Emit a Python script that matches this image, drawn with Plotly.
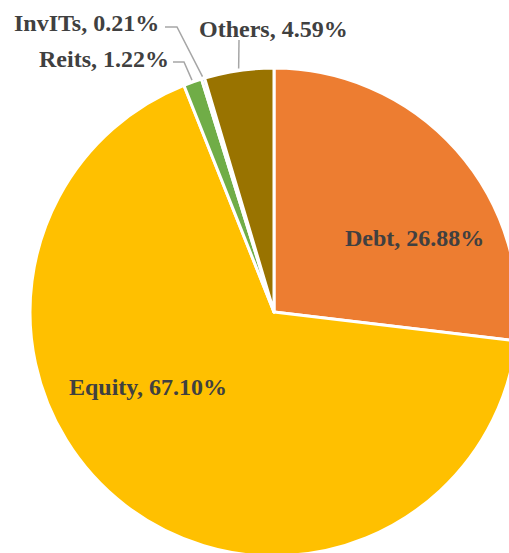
import math
import plotly.graph_objects as go

# ---- data ----
categories = ["Debt", "Equity", "Reits", "InvITs", "Others"]
values = [26.88, 67.10, 1.22, 0.21, 4.59]
colors = ["#ED7D31", "#FFC000", "#70AD47", "#4472C4", "#997300"]
label_text = ["Debt, 26.88%", "Equity, 67.10%", "Reits, 1.22%", "InvITs, 0.21%", "Others, 4.59%"]

# ---- layout geometry (pixels) ----
W, H = 518, 556
ML, MT = 30, 68
PW, PH = W - ML, H - MT
R = PW / 2.0
CX, CY = ML + R, MT + R

def paper(px, py):
    return (px - ML) / PW, 1 - (py - MT) / PH

fig = go.Figure(go.Pie(
    labels=categories,
    values=values,
    sort=False,
    direction="clockwise",
    rotation=0,
    marker=dict(colors=colors, line=dict(color="white", width=3)),
    textinfo="none",
    hoverinfo="label+percent",
    showlegend=False,
))

# label positions (pixel centers) and leader-line elbows
label_pos = {
    "Debt": (414, 238),
    "Equity": (148, 387),
    "Reits": (104, 59),
    "InvITs": (86, 23),
    "Others": (273, 29),
}
elbows = {
    "Reits": [(173, 62), (184, 62)],
    "InvITs": [(165, 27), (177, 27)],
    "Others": [(239, 40)],
}

annotations = []
for cat, txt in zip(categories, label_text):
    px, py = label_pos[cat]
    x, y = paper(px, py)
    annotations.append(dict(
        x=x, y=y, xref="paper", yref="paper", text="<b>" + txt + "</b>",
        showarrow=False, xanchor="center", yanchor="middle",
        font=dict(family="Liberation Serif", size=24, color="#404040"),
    ))

# leader lines: end on the slice's mid angle
total = sum(values)
cum = 0.0
shapes = []
for cat, v in zip(categories, values):
    mid = (cum + v / 2) / total * 2 * math.pi
    cum += v
    if cat not in elbows:
        continue
    ex = CX + (R + 2) * math.sin(mid)
    ey = CY - (R + 2) * math.cos(mid)
    pts = elbows[cat] + [(ex, ey)]
    path = ""
    for i, (px, py) in enumerate(pts):
        x, y = paper(px, py)
        path += ("M" if i == 0 else " L") + f"{x:.5f},{y:.5f}"
    shapes.append(dict(type="path", path=path, xref="paper", yref="paper",
                       line=dict(color="#A6A6A6", width=1.5)))

fig.update_layout(
    width=W, height=H,
    margin=dict(l=ML, r=0, t=MT, b=0, pad=0),
    paper_bgcolor="white",
    plot_bgcolor="white",
    annotations=annotations,
    shapes=shapes,
)

fig.write_html(
    "out.html",
    post_script="document.body.style.margin='0';document.body.style.overflow='hidden';document.documentElement.style.overflow='hidden';",
    config={"displayModeBar": False},
)
